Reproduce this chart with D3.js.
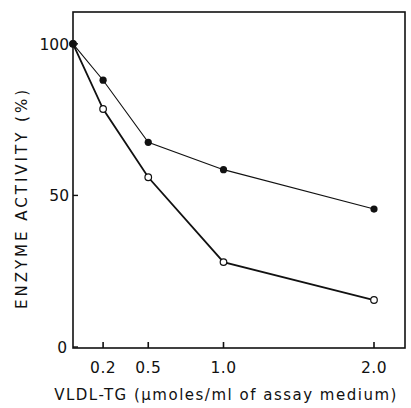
<!DOCTYPE html>
<html>
<head>
<meta charset="utf-8">
<script src="https://cdn.jsdelivr.net/npm/d3@7"></script>
<style>
  body { margin: 0; background: #fff; }
  text { font-family: "DejaVu Sans", sans-serif; fill: #111; }
</style>
</head>
<body>
<div id="chart"></div>
<script>
// values
var doses = [0, 0.2, 0.5, 1.0, 2.0];
var filledSeries = [100, 88, 67.5, 58.5, 45.5];
var openSeries = [100, 78.5, 56, 28, 15.5];
var xTicks = [0.2, 0.5, 1.0, 2.0];
var xTickLabels = ["0.2", "0.5", "1.0", "2.0"];
var yTicks = [0, 50, 100];

var WIDTH = 411, HEIGHT = 408;
var PLOT_L = 73, PLOT_R = 405, PLOT_T = 12, PLOT_B = 348;

var svg = d3.select("#chart").append("svg")
  .attr("width", WIDTH).attr("height", HEIGHT);

var x = d3.scaleLinear().domain([0, 2.206]).range([PLOT_L, PLOT_R]);
var y = d3.scaleLinear().domain([0, 110.5]).range([347, PLOT_T]);

// frame
svg.append("rect")
  .attr("x", PLOT_L).attr("y", PLOT_T)
  .attr("width", PLOT_R - PLOT_L).attr("height", PLOT_B - PLOT_T)
  .attr("fill", "none").attr("stroke", "#111").attr("stroke-width", 1.6);

// x ticks (pointing in)
svg.selectAll(".xt").data(xTicks).enter().append("line")
  .attr("x1", d => x(d)).attr("x2", d => x(d))
  .attr("y1", PLOT_B).attr("y2", PLOT_B - 6)
  .attr("stroke", "#111").attr("stroke-width", 1.6);

svg.selectAll(".xl").data(xTicks).enter().append("text")
  .attr("x", d => x(d)).attr("y", 373)
  .attr("text-anchor", "middle").attr("font-size", 15.5)
  .attr("letter-spacing", 0.5)
  .text((d, i) => xTickLabels[i]);

// y ticks
svg.selectAll(".yt").data(yTicks).enter().append("line")
  .attr("x1", PLOT_L).attr("x2", PLOT_L + 5)
  .attr("y1", d => y(d)).attr("y2", d => y(d))
  .attr("stroke", "#111").attr("stroke-width", 1.4);

svg.selectAll(".yl").data(yTicks).enter().append("text")
  .attr("x", d => d === 0 ? PLOT_L - 6 : PLOT_L - 4).attr("y", d => y(d) + 6)
  .attr("text-anchor", "end").attr("font-size", 15.5)
  .text(d => d);

// axis titles
svg.append("text")
  .attr("x", 226).attr("y", 400)
  .attr("text-anchor", "middle").attr("font-size", 15)
  .attr("letter-spacing", 1.5)
  .text("VLDL-TG (\u03bcmoles/ml of assay medium)");

svg.append("text")
  .attr("transform", "translate(27,198) rotate(-90)")
  .attr("text-anchor", "middle").attr("font-size", 15)
  .attr("letter-spacing", 3)
  .text("ENZYME  ACTIVITY  (%)");

var line = d3.line().x((d, i) => x(doses[i])).y(d => y(d));

svg.append("path").datum(openSeries)
  .attr("d", line).attr("fill", "none")
  .attr("stroke", "#111").attr("stroke-width", 1.8);

svg.append("path").datum(filledSeries)
  .attr("d", line).attr("fill", "none")
  .attr("stroke", "#111").attr("stroke-width", 1.1);

svg.selectAll(".op").data(openSeries).enter().append("circle")
  .attr("cx", (d, i) => x(doses[i])).attr("cy", d => y(d))
  .attr("r", 3.3).attr("fill", "#fff")
  .attr("stroke", "#111").attr("stroke-width", 1.2);

svg.selectAll(".fp").data(filledSeries).enter().append("circle")
  .attr("cx", (d, i) => x(doses[i])).attr("cy", d => y(d))
  .attr("r", 3.6).attr("fill", "#111");
</script>
</body>
</html>
